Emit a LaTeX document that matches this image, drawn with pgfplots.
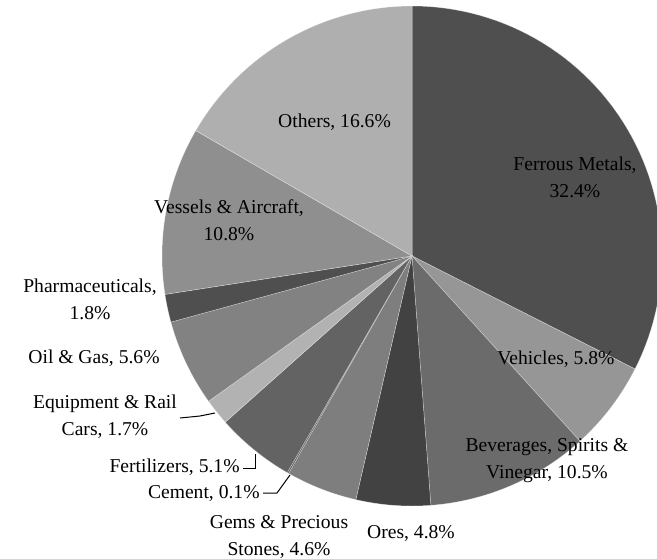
\documentclass[border=0pt]{standalone}
\usepackage{pgfplots}
\pgfplotsset{compat=1.18}
\usepackage{fontspec}
\setmainfont{Liberation Serif}

\definecolor{cFerrous}{HTML}{4F4F4F}
\definecolor{cVehicles}{HTML}{969696}
\definecolor{cBeverages}{HTML}{6B6B6B}
\definecolor{cOres}{HTML}{424242}
\definecolor{cGems}{HTML}{7E7E7E}
\definecolor{cCement}{HTML}{5A5A5A}
\definecolor{cFert}{HTML}{636363}
\definecolor{cEquip}{HTML}{B2B2B2}
\definecolor{cOil}{HTML}{828282}
\definecolor{cPharma}{HTML}{4F4F4F}
\definecolor{cVessels}{HTML}{8F8F8F}
\definecolor{cOthers}{HTML}{AFAFAF}

\begin{document}
\begin{tikzpicture}[lbl/.style={font=\fontsize{9.8}{13.5}\selectfont, align=center, inner sep=0pt}]
\begin{axis}[
    hide axis,
    x=0.5pt, y=0.5pt,
    xmin=-412, xmax=245,
    ymin=-302, ymax=256,
]
% slices clockwise from 12 o'clock: share (%) / colour
\def\total{99.8}
\gdef\cum{0}
\foreach \v/\c in {32.4/cFerrous, 5.8/cVehicles, 10.5/cBeverages, 4.8/cOres,
                   4.6/cGems, 0.1/cCement, 5.1/cFert, 1.7/cEquip, 5.6/cOil,
                   1.8/cPharma, 10.8/cVessels, 16.6/cOthers}{
  \pgfmathsetmacro\angA{90-((\cum+\v)/\total)*360}
  \pgfmathsetmacro\angB{90-(\cum/\total)*360}
  \edef\doslice{\noexpand\addplot[fill=\c, draw=white, draw opacity=0.45, line width=0.25pt,
      domain=\angA:\angB, samples=60, variable=\noexpand\t]
      ({250*cos(\noexpand\t)},{250*sin(\noexpand\t)}) -- (axis cs:0,0) -- cycle;}
  \doslice
  \pgfmathsetmacro\newcum{\cum+\v}
  \xdef\cum{\newcum}
}

% leader lines
\draw[black, line width=0.5pt] (axis cs:-169,-212) -- (axis cs:-157,-212) -- (axis cs:-157,-198);
\draw[black, line width=0.5pt] (axis cs:-149,-237) -- (axis cs:-135,-237) -- (axis cs:-122,-219);
\draw[black, line width=0.5pt] (axis cs:-232,-162) -- (axis cs:-212,-160) -- (axis cs:-197,-157);

% labels
\node[lbl] at (axis cs:163,78.5) {Ferrous Metals,\\32.4\%};
\node[lbl] at (axis cs:144,-103) {Vehicles, 5.8\%};
\node[lbl] at (axis cs:135,-204.5) {Beverages, Spirits \&\\Vinegar, 10.5\%};
\node[lbl] at (axis cs:-1,-277) {Ores, 4.8\%};
\node[lbl] at (axis cs:-133,-280.5) {Gems \& Precious\\Stones, 4.6\%};
\node[lbl, anchor=east] at (axis cs:-152,-237) {Cement, 0.1\%};
\node[lbl, anchor=east] at (axis cs:-172,-211) {Fertilizers, 5.1\%};
\node[lbl] at (axis cs:-307,-161) {Equipment \& Rail\\Cars, 1.7\%};
\node[lbl] at (axis cs:-318,-102) {Oil \& Gas, 5.6\%};
\node[lbl] at (axis cs:-322,-43.5) {Pharmaceuticals,\\1.8\%};
\node[lbl] at (axis cs:-183,36) {Vessels \& Aircraft,\\10.8\%};
\node[lbl] at (axis cs:-77.5,134) {Others, 16.6\%};
\end{axis}
\pgfresetboundingbox
\path (current axis.south west) rectangle (current axis.north east);
\end{tikzpicture}
\end{document}
